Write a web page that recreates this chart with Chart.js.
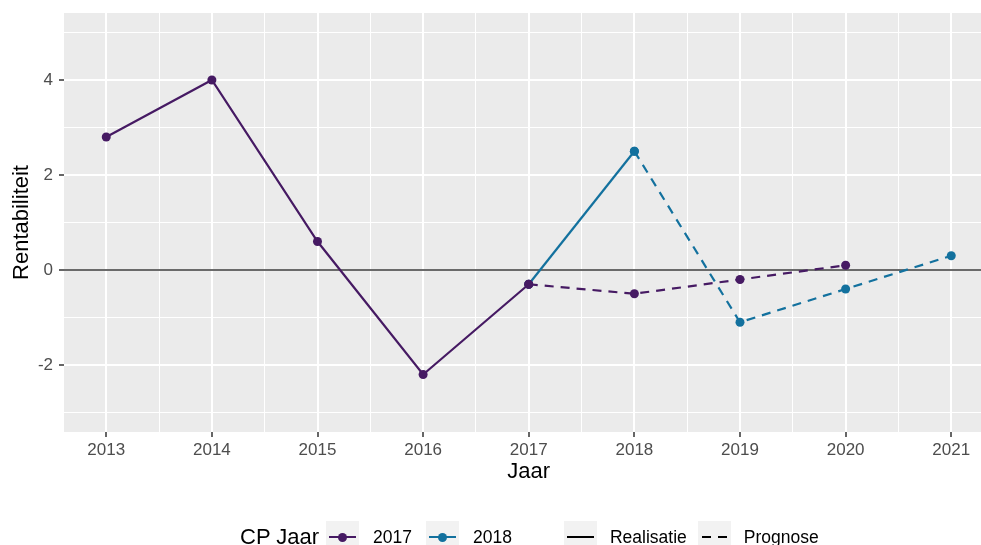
<!DOCTYPE html>
<html>
<head>
<meta charset="utf-8">
<script src="https://cdn.jsdelivr.net/npm/chart.js@4.4.0/dist/chart.umd.min.js"></script>
<style>
    html, body { margin: 0; padding: 0; background: #fff; overflow: hidden; }
    #wrap { position: relative; width: 981px; height: 545px; overflow: hidden; }
    #chart { position: absolute; left: 0; top: 0; }
    .legend { position: absolute; left: 240px; top: 520px; height: 34px; display: flex; align-items: center;
              font-family: "Liberation Sans", Arial, sans-serif; color: #000; }
    .legend .title { font-size: 22px; margin-right: 7px; }
    .legend .txt { font-size: 17.5px; }
    .key { position: relative; width: 33px; height: 33px; background: #F2F2F2; }
    .key .ln { position: absolute; left: 3px; right: 3px; top: 15.5px; height: 2px; }
    .key .dot { position: absolute; left: 12px; top: 12px; width: 9px; height: 9px; border-radius: 50%; }
</style>
</head>
<body>
<div id="wrap">
    <!-- canvas is breder dan het venster: het paneel loopt door voorbij de rand, zoals in het origineel -->
    <canvas id="chart" width="998" height="545"></canvas>
    <div class="legend" id="legend"></div>
</div>
<script>
// Jaren op de x-as en de waarden per CP-jaar (null = geen waarde)
const years = [2013, 2014, 2015, 2016, 2017, 2018, 2019, 2020, 2021];
const real2017 = [2.8, 4.0, 0.6, -2.2, -0.3, null, null, null, null];
const prog2017 = [null, null, null, null, -0.3, -0.5, -0.2, 0.1, null];
const real2018 = [null, null, null, null, -0.3, 2.5, null, null, null];
const prog2018 = [null, null, null, null, null, 2.5, -1.1, -0.4, 0.3];

// Tick labels / gridlijnen
const xMajor = years;
const xMinor = [2012.5, 2013.5, 2014.5, 2015.5, 2016.5, 2017.5, 2018.5, 2019.5, 2020.5, 2021.5];
const yMajor = [-2, 0, 2, 4];
const yMinor = [-3, -1, 1, 3, 5];

const cpLabels = ['2017', '2018'];
const typeLabels = ['Realisatie', 'Prognose'];

const PURPLE = '#461A63';
const BLUE = '#13719E';
const DASH = [9, 7];

// zet een reeks om naar {x, y} punten en sla lege jaren over
function toPoints(values) {
    return years.map((y, i) => ({ x: y, y: values[i] })).filter(p => p.y !== null);
}

function lineSet(label, values, color, dashed) {
    return {
        label: label,
        data: toPoints(values),
        borderColor: color,
        backgroundColor: color,
        pointBackgroundColor: color,
        pointBorderColor: color,
        borderWidth: 2.2,
        borderDash: dashed ? DASH : [],
        pointRadius: 4.5,
        pointBorderWidth: 0,
        tension: 0,
        spanGaps: true
    };
}

// grijs paneel + nullijn
const panelPlugin = {
    id: 'panel',
    beforeDraw(chart) {
        const { ctx, chartArea } = chart;
        ctx.save();
        ctx.fillStyle = '#EBEBEB';
        ctx.fillRect(chartArea.left, chartArea.top, chartArea.right - chartArea.left, chartArea.bottom - chartArea.top);
        ctx.restore();
    },
    beforeDatasetsDraw(chart) {
        const { ctx, chartArea, scales } = chart;
        const y0 = scales.y.getPixelForValue(0);
        ctx.save();
        ctx.strokeStyle = '#6A6A6A';
        ctx.lineWidth = 2;
        ctx.beginPath();
        ctx.moveTo(chartArea.left, y0);
        ctx.lineTo(chartArea.right, y0);
        ctx.stroke();
        ctx.restore();
    }
};

const isMajorX = v => xMajor.includes(v);
const isMajorY = v => yMajor.includes(v);

new Chart(document.getElementById('chart'), {
    type: 'line',
    data: {
        datasets: [
            lineSet('2017 Realisatie', real2017, PURPLE, false),
            lineSet('2017 Prognose', prog2017, PURPLE, true),
            lineSet('2018 Realisatie', real2018, BLUE, false),
            lineSet('2018 Prognose', prog2018, BLUE, true)
        ]
    },
    options: {
        responsive: false,
        animation: false,
        devicePixelRatio: 1,
        layout: { padding: { top: 13, right: 0, left: 0, bottom: 0 } },
        plugins: { legend: { display: false }, tooltip: { enabled: false } },
        scales: {
            x: {
                type: 'linear',
                min: 2012.6,
                max: 2021.4,
                afterBuildTicks: scale => {
                    scale.ticks = xMajor.concat(xMinor).sort((a, b) => a - b)
                        .filter(v => v >= scale.min && v <= scale.max).map(v => ({ value: v }));
                },
                afterFit: scale => {
                    scale.height = 113;
                    scale.paddingLeft = 0;
                    scale.paddingRight = 0;
                },
                ticks: {
                    autoSkip: false,
                    maxRotation: 0,
                    padding: 3,
                    color: '#4D4D4D',
                    font: { family: 'Liberation Sans', size: 17 },
                    callback: v => isMajorX(v) ? String(v) : ''
                },
                grid: {
                    color: '#FFFFFF',
                    lineWidth: c => isMajorX(c.tick.value) ? 2 : 1,
                    drawTicks: true,
                    tickLength: 5,
                    tickWidth: 1.5,
                    tickColor: c => isMajorX(c.tick.value) ? '#333333' : 'rgba(0,0,0,0)'
                },
                border: { display: false },
                title: {
                    display: true,
                    text: 'Jaar',
                    color: '#000',
                    font: { family: 'Liberation Sans', size: 22 },
                    padding: { top: 0, bottom: 60 }
                }
            },
            y: {
                min: -3.41,
                max: 5.41,
                afterBuildTicks: scale => {
                    scale.ticks = yMajor.concat(yMinor).sort((a, b) => a - b).map(v => ({ value: v }));
                },
                afterFit: scale => {
                    scale.width = 64;
                    scale.paddingTop = 0;
                    scale.paddingBottom = 0;
                },
                ticks: {
                    padding: 6,
                    color: '#4D4D4D',
                    font: { family: 'Liberation Sans', size: 17 },
                    callback: v => isMajorY(v) ? String(v) : ''
                },
                grid: {
                    color: '#FFFFFF',
                    lineWidth: c => isMajorY(c.tick.value) ? 2 : 1,
                    drawTicks: true,
                    tickLength: 5,
                    tickWidth: 1.5,
                    tickColor: c => isMajorY(c.tick.value) ? '#333333' : 'rgba(0,0,0,0)'
                },
                border: { display: false },
                title: {
                    display: true,
                    text: 'Rentabiliteit',
                    color: '#000',
                    font: { family: 'Liberation Sans', size: 22 },
                    padding: { top: 9, bottom: 0 }
                }
            }
        }
    },
    plugins: [panelPlugin]
});

// legenda onderaan, zoals in ggplot
function buildLegend() {
    const el = document.getElementById('legend');
    const parts = [];
    parts.push('<span class="title">CP Jaar</span>');
    const cpColors = [PURPLE, BLUE];
    cpLabels.forEach((lab, i) => {
        parts.push('<span class="key" style="margin-right:14px"><span class="ln" style="background:' + cpColors[i] +
            '"></span><span class="dot" style="background:' + cpColors[i] + '"></span></span>');
        parts.push('<span class="txt" style="margin-right:' + (i === 0 ? 14 : 52) + 'px">' + lab + '</span>');
    });
    typeLabels.forEach((lab, i) => {
        const ln = i === 0
            ? '<span class="ln" style="background:#000"></span>'
            : '<span class="ln" style="background:repeating-linear-gradient(90deg,#000 0 9px,transparent 9px 16px);left:4px;right:2px"></span>';
        parts.push('<span class="key" style="margin-right:13px">' + ln + '</span>');
        parts.push('<span class="txt" style="margin-right:11px">' + lab + '</span>');
    });
    el.innerHTML = parts.join('');
}
buildLegend();
</script>
</body>
</html>
